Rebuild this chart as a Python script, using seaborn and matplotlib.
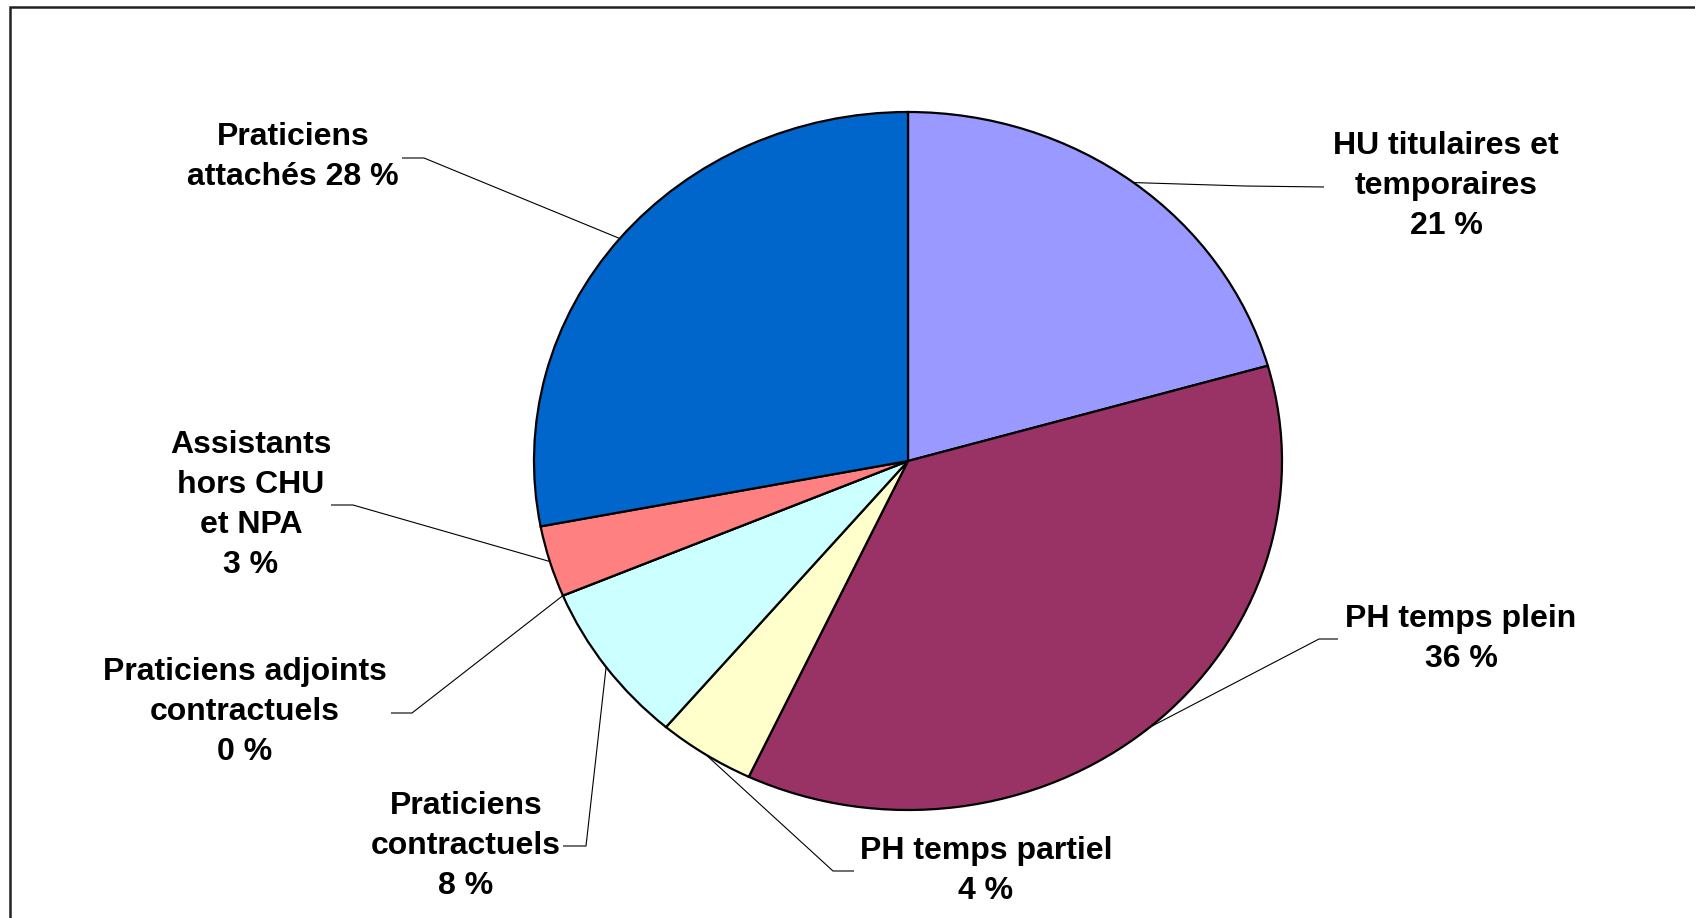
import numpy as np
import matplotlib
matplotlib.use("Agg")
import matplotlib.pyplot as plt
from matplotlib.patches import Rectangle
import seaborn as sns

# data (share of each category, %)
categories = ["HU titulaires et\ntemporaires", "PH temps plein", "PH temps partiel",
              "Praticiens\ncontractuels", "Praticiens adjoints\ncontractuels",
              "Assistants\nhors CHU\net NPA", "Praticiens\nattachés"]
shares = [20.6, 36.4, 4.2, 7.5, 0.0, 3.3, 28.0]
colors = ["#9999FF", "#993366", "#FFFFCC", "#CCFFFF", "#FFFFFF", "#FF8080", "#0066CC"]

# layout in image pixels (from top-left): label centre, leader elbow, leader end
W, H = 1695, 918
cx, cy, rx, ry = 908, 461, 374, 349
label_pos = [(1446, 186), (1461, 639), (986, 871), (466, 846), (245, 712), (251, 505), (293, 157)]
elbow_pos = [(1245, 186), (1319, 639), (833, 871), (586, 846), (412, 713), (353, 505), (424, 158)]
end_pos = [(1324, 187), (1338, 639), (854, 871), (563, 846), (391, 713), (331, 505), (402, 158)]

sns.set_theme(style="white")
plt.rcParams["font.family"] = ["Liberation Sans", "DejaVu Sans"]

fig = plt.figure(figsize=(W / 100, H / 100), dpi=100)
fig.patch.set_facecolor("white")
ax = fig.add_axes([0, 0, 1, 1])

wedges, _ = ax.pie(shares, colors=colors, startangle=90, counterclock=False,
                   wedgeprops=dict(edgecolor="black", linewidth=1.6))
ax.set_aspect("auto")
ax.set_xlim(-cx / rx, (W - cx) / rx)
ax.set_ylim(-(H - cy) / ry, cy / ry)
ax.axis("off")


def to_data(p):
    return ((p[0] - cx) / rx, (cy - p[1]) / ry)


for i, w in enumerate(wedges):
    mid = np.deg2rad((w.theta1 + w.theta2) / 2)
    start = (np.cos(mid), np.sin(mid))
    ex, ey = to_data(elbow_pos[i])
    nx, ny = to_data(end_pos[i])
    ax.plot([start[0], ex, nx], [start[1], ey, ny], color="black", lw=0.8, solid_capstyle="butt")
    if i == 6:
        txt = "Praticiens\nattachés %d %%" % round(shares[i])
    else:
        txt = "%s\n%d %%" % (categories[i], round(shares[i]))
    tx, ty = to_data(label_pos[i])
    ax.text(tx, ty, txt, ha="center", va="center", fontsize=23, fontweight="bold",
            linespacing=1.44, color="black")

# chart frame (right and bottom edges fall outside the image)
fig.patches.append(Rectangle((10 / W, -0.1), 1.2, 0.1 + (H - 7.5) / H, transform=fig.transFigure,
                             fill=False, edgecolor="#222222", linewidth=1.8))

fig.savefig("out.png", dpi=100)
